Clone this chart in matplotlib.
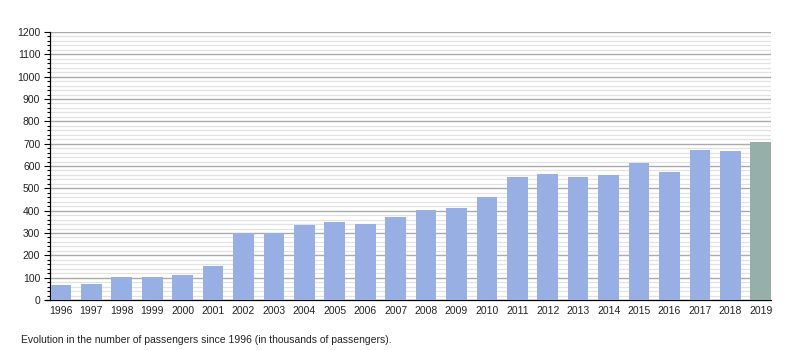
import matplotlib
matplotlib.use("Agg")
import matplotlib.pyplot as plt
from matplotlib.ticker import MultipleLocator

years = [str(y) for y in range(1996, 2020)]
passengers = [68, 72, 103, 103, 112, 152, 298, 298, 337, 349, 340, 372,
              402, 412, 461, 551, 564, 551, 561, 613, 573, 672, 667, 708]
highlight_year = "2019"

plt.rcParams["font.family"] = ["Liberation Sans", "DejaVu Sans"]

fig = plt.figure(figsize=(8, 3.5), dpi=100)
ax = fig.add_axes([0.0625, 0.1429, 0.9013, 0.7657])

colors = ["#96b0a9" if y == highlight_year else "#98afe4" for y in years]
x = range(len(years))
ax.bar(x, passengers, width=0.68, color=colors, zorder=3)

ax.set_xlim(-0.36, len(years) - 1 + 0.34)
ax.set_ylim(0, 1200)
ax.yaxis.set_major_locator(MultipleLocator(100))
ax.yaxis.set_minor_locator(MultipleLocator(20))
ax.grid(which="major", axis="y", color="#aaaaaa", linewidth=1.0, zorder=1)
ax.grid(which="minor", axis="y", color="#e2e2e2", linewidth=0.9, zorder=0)
ax.set_axisbelow(True)

ax.set_xticks(list(x))
ax.set_xticklabels(years)
ax.tick_params(axis="x", length=0, pad=4, labelsize=7.5, colors="#222222")
ax.tick_params(axis="y", which="major", length=4, width=0.8, pad=3, labelsize=7.5, labelcolor="#222222")
ax.tick_params(axis="y", which="minor", length=2, width=0.8)

for side in ("top", "right"):
    ax.spines[side].set_visible(False)
ax.spines["left"].set_linewidth(0.9)
ax.spines["bottom"].set_linewidth(0.9)
ax.spines["bottom"].set_bounds(-0.36 - 4 / 30.4, len(years) - 1 + 0.34)
ax.spines["bottom"].set_clip_on(False)

fig.text(21 / 800, 1 - 340 / 350,
         "Evolution in the number of passengers since 1996 (in thousands of passengers).",
         fontsize=7.5, color="#222222", va="center", ha="left")

fig.savefig("out.png", dpi=100, facecolor="white")
